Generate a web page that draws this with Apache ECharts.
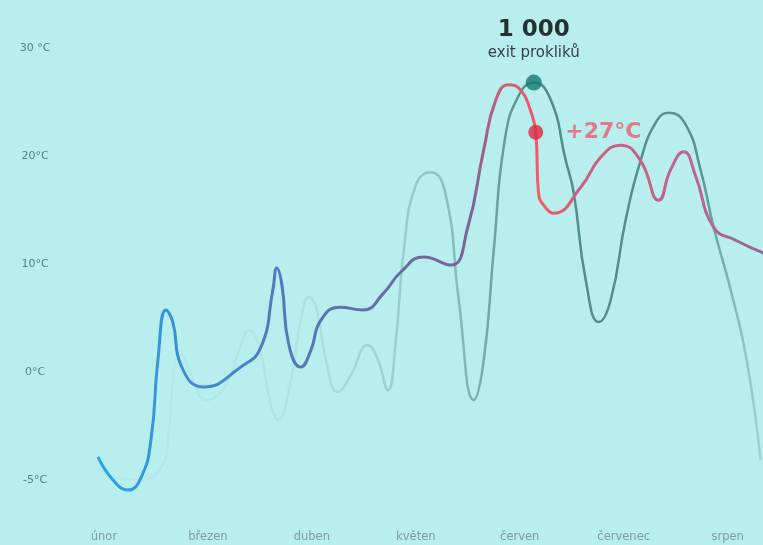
<!DOCTYPE html>
<html>
<head>
<meta charset="utf-8">
<script src="https://cdn.jsdelivr.net/npm/echarts@6/dist/echarts.min.js"></script>
<style>
html,body{margin:0;padding:0;background:#b8eeed;}
#chart{width:763px;height:545px;}
</style>
</head>
<body>
<div id="chart"></div>
<script>
// Month labels along the x axis (index 0..6)
const months = ['únor', 'březen', 'duben', 'květen', 'červen', 'červenec', 'srpen'];
// Y tick labels as printed on the chart
const yTickValues = [-10, 0, 10, 20, 30];
const yTickLabels = ['-5°C', '0°C', '10°C', '20°C', '30 °C'];

// Temperature line: [month position, °C]
const tempX = [-0.058, 0.087, 0.231, 0.356, 0.452, 0.519, 0.596, 0.663, 0.74, 0.962, 1.317, 1.51, 1.625, 1.663, 1.712, 1.779, 1.894, 1.99, 2.087, 2.27, 2.49, 2.69, 2.856, 3.077, 3.337, 3.5, 3.654, 3.77, 3.894, 4.01, 4.1, 4.154, 4.18, 4.25, 4.327, 4.587, 4.78, 4.97, 5.16, 5.337, 5.45, 5.577, 5.69, 5.865, 6.077, 6.346];
const tempY = [-7.87, -10.0, -10.93, -9.8, -6.3, 1.1, 5.74, 4.6, 0.65, -1.39, 0.46, 2.3, 7.6, 9.63, 8.05, 2.5, 0.46, 2.0, 4.8, 6.0, 5.74, 7.3, 9.26, 10.65, 9.9, 13.4, 20.6, 25.2, 26.6, 26.1, 24.3, 22.2, 16.6, 15.2, 14.7, 17.1, 19.9, 21.0, 19.6, 15.9, 18.7, 20.4, 18.2, 13.4, 12.2, 11.0];

// Exit clicks line (scaled to the same axis)
const clickX = [-0.058, 0.26, 0.548, 0.625, 0.683, 0.74, 0.837, 0.981, 1.173, 1.317, 1.394, 1.49, 1.606, 1.673, 1.798, 1.894, 1.971, 2.048, 2.135, 2.25, 2.375, 2.538, 2.635, 2.731, 2.808, 2.885, 3.0, 3.144, 3.288, 3.413, 3.558, 3.654, 3.75, 3.856, 3.99, 4.135, 4.298, 4.442, 4.519, 4.635, 4.76, 4.875, 5.019, 5.163, 5.308, 5.433, 5.596, 5.74, 5.865, 6.029, 6.183, 6.317];
const clickY = [-9.07, -10.0, -8.89, -5.37, 0.93, 1.57, -0.28, -2.59, -1.2, 2.5, 3.89, 2.5, -3.06, -4.44, -0.74, 4.81, 6.94, 5.74, 1.11, -1.85, -0.28, 2.5, 1.11, -1.67, 2.96, 11.3, 17.3, 18.5, 16.4, 6.67, -2.59, 1.11, 11.3, 21.5, 25.6, 26.8, 25.2, 19.6, 16.6, 8.5, 4.63, 6.67, 14.1, 19.6, 23.1, 24.0, 22.9, 18.7, 13.4, 7.6, 1.11, -8.15];

// Highlighted points
const peakClicks = [4.135, 26.8];
const peakClicksText = ['1 000', 'exit prokliků'];
const tempMarker = [4.154, 22.2];
const tempMarkerText = '+27°C';

const zip = (xs, ys) => xs.map((x, i) => [x, ys[i]]);

const chart = echarts.init(document.getElementById('chart'), null, {renderer: 'canvas'});
chart.setOption({
  backgroundColor: '#b8eeed',
  animation: false,
  grid: {left: 0, right: 0, top: 48, bottom: 65, containLabel: false},
  xAxis: {
    type: 'value', min: -1, max: 6.34, interval: 1,
    axisLine: {show: false}, axisTick: {show: false}, splitLine: {show: false},
    axisLabel: {
      margin: 51, color: '#7d9c9d', fontSize: 11.5, fontFamily: 'DejaVu Sans',
      showMinLabel: false, showMaxLabel: false,
      formatter: v => (Number.isInteger(v) && months[v]) ? months[v] : ''
    }
  },
  yAxis: {
    type: 'value', min: -10, max: 30, interval: 10,
    axisLine: {show: false}, axisTick: {show: false}, splitLine: {show: false},
    axisLabel: {
      inside: true, margin: 35, align: 'center', color: '#5a7f80', fontSize: 11, fontFamily: 'DejaVu Sans',
      formatter: v => { const i = yTickValues.indexOf(v); return i >= 0 ? yTickLabels[i] : ''; }
    }
  },
  series: [
    {
      type: 'line', data: zip(clickX, clickY), smooth: 0.5, symbol: 'none', clip: false, z: 2,
      lineStyle: {width: 2.5, color: new echarts.graphic.LinearGradient(0, 0, 1, 0, [
        {offset: 0, color: 'rgba(80,140,135,0.03)'},
        {offset: 0.3, color: 'rgba(80,140,135,0.1)'},
        {offset: 0.45, color: 'rgba(70,130,125,0.28)'},
        {offset: 0.55, color: 'rgba(60,125,120,0.45)'},
        {offset: 0.65, color: 'rgba(50,115,110,0.8)'},
        {offset: 0.9, color: 'rgba(50,115,110,0.75)'},
        {offset: 1, color: 'rgba(70,130,125,0.22)'}
      ])}
    },
    {
      type: 'line', data: zip(tempX, tempY), smooth: 0.5, symbol: 'none', clip: false, z: 3,
      lineStyle: {width: 3, color: new echarts.graphic.LinearGradient(0, 0, 1, 0, [
        {offset: 0, color: '#22a8e8'},
        {offset: 0.12, color: '#3a8fd6'},
        {offset: 0.3, color: '#5577b8'},
        {offset: 0.45, color: '#6a6aa2'},
        {offset: 0.56, color: '#7b6794'},
        {offset: 0.61, color: '#d45a72'},
        {offset: 0.66, color: '#ee5c6c'},
        {offset: 0.7, color: '#e05a74'},
        {offset: 0.72, color: '#cc6082'},
        {offset: 0.9, color: '#c0648a'},
        {offset: 1, color: '#8c6a94'}
      ])}
    },
    {
      type: 'scatter', data: [peakClicks], symbolSize: 16, z: 5,
      itemStyle: {color: '#147a72'},
      label: {
        show: true, position: 'top', distance: 11, color: '#000',
        formatter: '{a|' + peakClicksText[0] + '}\n{b|' + peakClicksText[1] + '}',
        rich: {
          a: {fontSize: 23, fontWeight: 'bold', color: '#000', fontFamily: 'DejaVu Sans', lineHeight: 28, align: 'center', textBorderWidth: 0},
          b: {fontSize: 15, color: '#111', fontFamily: 'DejaVu Sans', lineHeight: 20, align: 'center', textBorderWidth: 0}
        }
      }
    },
    {
      type: 'scatter', data: [tempMarker], symbolSize: 15, z: 5,
      itemStyle: {color: '#e0283f'},
      label: {
        show: true, position: 'right', distance: 22,
        formatter: tempMarkerText, color: '#ef5a70', fontSize: 22, fontWeight: 'bold', fontFamily: 'DejaVu Sans'
      }
    }
  ]
});
</script>
</body>
</html>
